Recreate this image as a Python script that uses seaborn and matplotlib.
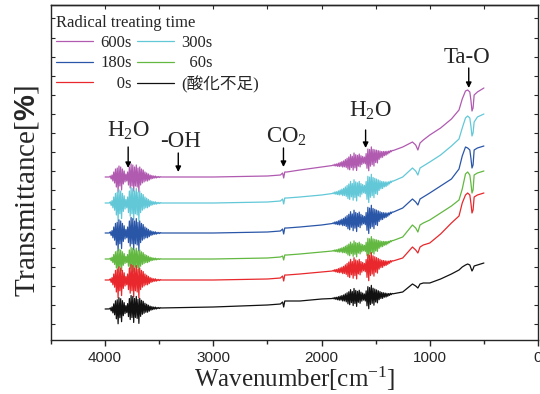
import numpy as np
import pandas as pd
import matplotlib
matplotlib.use("Agg")
import matplotlib.pyplot as plt
import seaborn as sns

# ---------------- data ----------------
series_names = ["600s", "300s", "180s", "60s", "0s", "(酸化不足)"]
series_colors = ["#b05ab0", "#62c8d8", "#2a56a8", "#62b840", "#e8282c", "#111111"]

base_wn = [4000, 3500, 3000, 2500, 2380, 2360, 2350, 2340, 2320, 2200, 2000, 1800,
           1600, 1400, 1250, 1160, 1130, 1110, 1090, 1060, 1000, 900, 800, 730,
           700, 670, 650, 630, 620, 610, 600, 590, 560, 500]

t_600 = [163, 163, 163, 164, 165, 167, 162, 168, 168, 170, 173, 176, 180, 187, 193,
         198, 195, 190, 197, 200, 205, 212, 221, 230, 241, 249, 250, 248, 240, 229,
         232, 245, 248, 252]
t_300 = [137, 137, 137, 138, 139, 141, 136, 142, 142, 143, 145, 148, 151, 156, 163,
         172, 169, 165, 172, 174, 178, 185, 194, 201, 212, 222, 224, 222, 214, 204,
         207, 218, 223, 226]
t_180 = [107, 107, 107, 108, 109, 111, 106, 112, 112, 113, 115, 118, 120, 125, 132,
         141, 138, 135, 141, 143, 147, 154, 161, 171, 184, 193, 192, 190, 182, 172,
         175, 190, 192, 194]
t_60 = [81, 81, 81, 82, 83, 84, 80, 85, 85, 86, 88, 90, 92, 97, 103,
        115, 112, 108, 115, 117, 120, 127, 134, 140, 151, 166, 168, 165, 157, 147,
        150, 165, 167, 169]
t_0 = [60, 60, 60, 61, 62, 64, 59, 65, 65, 66, 68, 70, 73, 77, 82,
       93, 90, 87, 93, 95, 97, 106, 117, 124, 137, 145, 147, 145, 137, 127,
       130, 143, 145, 147]
t_ref = [31, 32, 33, 35, 36, 38, 33, 39, 39, 39, 41, 42, 43, 45, 48,
         56, 54, 52, 56, 57, 57, 61, 66, 70, 73, 75, 76, 75, 72, 69,
         71, 74, 75, 77]

# water-vapour rotation lines (deviation from baseline)
h2o_hi_wn = list(range(3960, 3479, -8))
h2o_hi = [0, 1, -2, 2, -4, 5, -6, 8, -10, 9, -15, 11, -9, 10, -13, 8, -7, 6, -5, 3,
          -4, 5, -8, 10, -11, 13, -9, 12, -14, 10, -9, 12, -10, 9, -15, 10, -8, 8, -6, 7,
          -5, 5, -4, 4, -4, 3, -3, 2, -2, 1.5, -1.5, 1, -1, 1, -1, 0.5, -0.5, 0.5, -0.5,
          0.3, 0]
h2o_lo_wn = list(range(1900, 1339, -8))
h2o_lo = [0, 0.5, -0.5, 1, -1, 1, -1.5, 1.5, -2, 2, -2, 2.5, -3, 3, -3, 4, -4, 5, -6, 6,
          -7, 8, -5, 6, -8, 9, -6, 7, -9, 6, -5, 7, -6, 5, -4, 4, -3, 3, -4, 6,
          -9, 10, -12, 9, -8, 11, -7, 8, -9, 7, -6, 6, -7, 5, -4, 4, -3, 3, -3, 2.5,
          -2, 2, -2, 1.5, -1.5, 1, -1, 1, -0.5, 0.5, 0]
noise_scale = [1.0, 1.2, 1.2, 0.9, 1.2, 1.0]

legend_labels = {"600s": "600s", "300s": "300s", "180s": "180s",
                 "60s": "\u200760s", "0s": "\u2007\u20070s", "(酸化不足)": "(酸化不足)"}

# ---------------- build long table ----------------
base_vals = [t_600, t_300, t_180, t_60, t_0, t_ref]
noise_wn = np.array(h2o_hi_wn + h2o_lo_wn, dtype=float)
noise_v = np.array(h2o_hi + h2o_lo, dtype=float)
all_wn = np.union1d(np.array(base_wn, float), noise_wn)
bw = np.array(base_wn, float)[::-1]
order = np.argsort(noise_wn)
frames = []
for name, vals, sc in zip(series_names, base_vals, noise_scale):
    y = np.interp(all_wn, bw, np.array(vals, float)[::-1])
    y = y + sc * np.interp(all_wn, noise_wn[order], noise_v[order], left=0, right=0)
    frames.append(pd.DataFrame({"wn": all_wn, "T": y, "sample": name}))
df = pd.concat(frames, ignore_index=True)

# ---------------- style ----------------
sns.set_style("ticks")
plt.rcParams["font.family"] = ["Liberation Serif", "Noto Sans CJK JP", "DejaVu Sans"]
plt.rcParams["mathtext.fontset"] = "custom"
plt.rcParams["mathtext.rm"] = "Liberation Serif"
plt.rcParams["mathtext.it"] = "Liberation Serif:italic"
plt.rcParams["mathtext.bf"] = "Liberation Sans:bold"

fig = plt.figure(figsize=(5.4, 3.94), dpi=100)
ax = fig.add_axes([51 / 540, 1 - 340 / 394, (538 - 51) / 540, (340 - 5) / 394])

sns.lineplot(data=df, x="wn", y="T", hue="sample", hue_order=series_names,
             palette=series_colors, estimator=None, sort=True, lw=0.9, ax=ax)

ax.set_xlim(4500, 0)
ax.set_ylim(0, 335)
ax.set_xticks([4000, 3000, 2000, 1000, 0])
ax.set_xticks([4500, 3500, 2500, 1500, 500], minor=True)
ax.set_yticks(np.arange(16, 335, 19.1))
ax.tick_params(axis="x", which="major", direction="out", length=4, width=1,
               labelsize=11, pad=4)
ax.tick_params(axis="x", which="minor", direction="out", length=3, width=1)
ax.tick_params(axis="y", direction="in", left=True, right=True, labelleft=False,
               length=3, width=0.8)
for lab in ax.get_xticklabels():
    lab.set_fontfamily("Liberation Sans")
secx = ax.secondary_xaxis("top")
secx.set_xticks(np.arange(500, 4500, 500))
secx.tick_params(direction="in", length=3, width=0.8, labeltop=False)
for sp in list(ax.spines.values()) + list(secx.spines.values()):
    sp.set_linewidth(1.0)

ax.set_xlabel("Wavenumber[cm$^{-1}$]", fontsize=18, labelpad=0)
ax.set_ylabel(r"Transmittance[$\mathbf{\%}$]", fontsize=21)
ax.yaxis.set_label_coords(-0.02, 0.445)

# annotations
ann = [("H$_2$O", 3787, 203, 172, 193, 3787),
       ("-OH", 3306, 193, 168, 187, 3324),
       ("CO$_2$", 2324, 197, 173, 192, 2352),
       ("H$_2$O", 1546, 223, 192, 210, 1593),
       ("Ta-O", 657, 277, 252, 272, 640)]
for txt, tx, ty, tip, tail, ax_x in ann:
    ax.text(tx, ty, txt, ha="center", va="baseline", fontsize=16.5)
    ax.annotate("", xy=(ax_x, tip), xytext=(ax_x, tail),
                arrowprops=dict(arrowstyle="-|>", color="k", lw=1, mutation_scale=8,
                                shrinkA=0, shrinkB=0))

# legend (row-major order in 2 columns)
handles, labels = ax.get_legend_handles_labels()
hmap = dict(zip(labels, handles))
leg_order = ["600s", "180s", "0s", "300s", "60s", "(酸化不足)"]
leg = ax.legend([hmap[k] for k in leg_order], [legend_labels[k] for k in leg_order],
                title="Radical treating time", ncol=2, loc="upper left",
                bbox_to_anchor=(-0.003, 0.99), frameon=False, fontsize=12,
                title_fontsize=12, handlelength=2.2, handletextpad=0.45,
                columnspacing=0.3, labelspacing=0.25, borderaxespad=0.0,
                alignment="left")
for t in leg.get_texts():
    t.set_fontfamily(["Liberation Serif", "Noto Sans CJK JP"])

fig.savefig("out.png", dpi=100)
